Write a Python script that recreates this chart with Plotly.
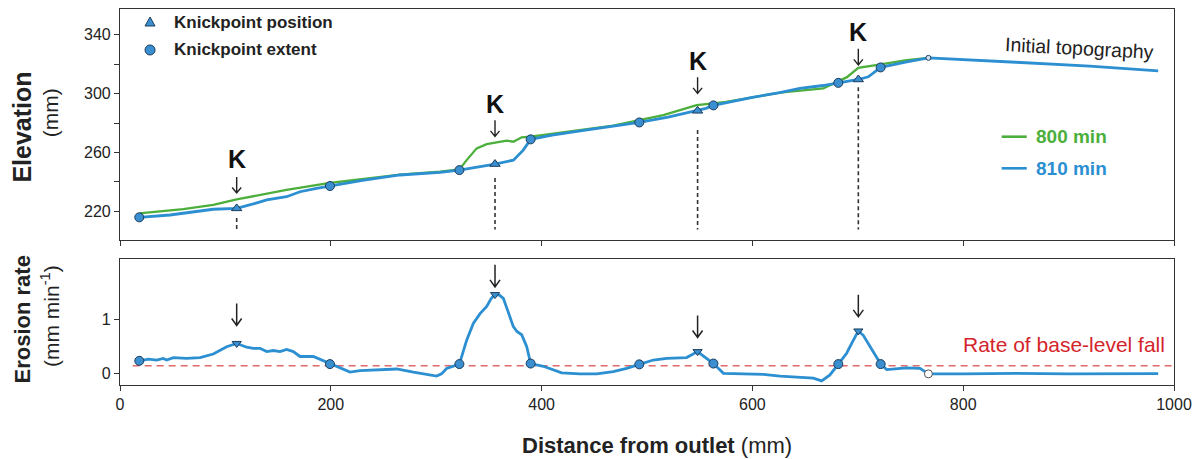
import plotly.graph_objects as go
from plotly.subplots import make_subplots

# ---------------- data ----------------
# Elevation profile at 810 min (blue)
dist_810 = [18.3, 47.4, 88.5, 110.7, 126.5, 139.2, 158, 170.8, 186.5, 199.2, 230, 265.7, 303.6, 322,
            340, 355.8, 373.2, 382.6, 389.6, 410, 440, 468, 492.7, 520, 548, 556, 563, 600, 626, 645,
            667, 681.5, 700.5, 710, 716.1, 721.7, 746.4, 767, 850, 920, 985]
elev_810 = [215.9, 217.5, 221.4, 222.0, 225.0, 227.7, 229.9, 233.3, 235.6, 237.2, 241.0, 244.7, 246.5, 248.0,
            250.0, 252.1, 254.8, 261.6, 268.9, 271.8, 275.0, 277.9, 280.4, 284.0, 288.3, 290.0, 292.0, 297.5, 300.6, 303.5,
            305.5, 307.3, 309.6, 311.4, 314.8, 317.8, 321.6, 324.3, 321.3, 318.7, 315.5]

# Elevation profile at 800 min (green)
dist_800 = [18.3, 60, 88.5, 110.7, 158, 199.2, 215, 265.7, 303.6, 322, 328.9, 338.4, 347.9, 355.8, 366.9,
            373.2, 381.1, 389.6, 420, 468, 492.7, 515.5, 531.3, 547.1, 563, 575, 626, 667.3, 681.5, 689.4,
            700.5, 711.6, 721.7, 746.4, 767]
elev_800 = [218.6, 221.5, 224.3, 228.1, 234.5, 239.4, 240.6, 245.0, 246.9, 248.5, 254.8, 262.8, 265.7, 266.6, 268.0,
            267.3, 270.3, 270.7, 273.5, 278.2, 282.0, 285.4, 288.8, 292.2, 293.4, 294.3, 300.6, 303.5, 308.5, 311.0,
            317.5, 318.9, 319.8, 322.7, 324.3]

# Erosion rate (810 min)
dist_rate = [18.3, 26.9, 34.8, 41, 44.3, 50.6, 63.2, 75.9, 88.5, 101.2, 110.7, 120.2, 126.5, 132.8, 139.2,
             145.5, 151.8, 158.1, 164.4, 170.8, 183.4, 192.9, 199.2, 208.7, 218.2, 227.7, 246.7, 262.5, 278.3,
             291, 300.4, 305, 309.9, 322, 328.9, 335.2, 341.6, 347.9, 352.3, 355.8, 360, 363.7, 368.5, 373.2,
             376.6, 381.1, 385.9, 389.6, 401.6, 411, 419.1, 436.4, 452.3, 468, 480.7, 492.7, 506, 518.7, 537.6,
             548, 563, 572.5, 594.6, 610.4, 626.2, 645.2, 657.8, 665.7, 673.6, 681.5, 689.4, 694.2, 700.5,
             705.2, 710, 716.3, 721.7, 727.4, 746.4, 759, 767, 800, 850, 900, 950, 985]
erosion_rate = [0.23, 0.26, 0.245, 0.275, 0.245, 0.29, 0.275, 0.29, 0.355, 0.49, 0.55, 0.48, 0.46, 0.46, 0.40,
                0.42, 0.40, 0.44, 0.40, 0.31, 0.31, 0.23, 0.17, 0.09, 0.024, 0.05, 0.06, 0.08, 0.02,
                -0.02, -0.05, -0.01, 0.09, 0.17, 0.61, 0.92, 1.10, 1.23, 1.38, 1.45, 1.44, 1.38, 1.10, 0.86,
                0.77, 0.71, 0.49, 0.18, 0.13, 0.07, 0.01, -0.01, -0.01, 0.03, 0.09, 0.165, 0.245, 0.275, 0.29,
                0.40, 0.18, 0.0, -0.01, -0.02, -0.05, -0.07, -0.09, -0.14, -0.03, 0.17, 0.37, 0.55, 0.78,
                0.70, 0.55, 0.34, 0.17, 0.07, 0.10, 0.09, -0.01, -0.01, 0.0, -0.01, 0.0, -0.005]

# Knickpoints
kp_x = [110.7, 355.8, 548.0, 700.5]
kp_elev = [222.0, 252.1, 288.3, 309.6]
kp_rate = [0.55, 1.45, 0.40, 0.78]
kp_dash_top = [215.4, 242.6, 275.2, 304.4]
kp_dash_bottom = 207.6
kp_label_elev = [255.5, 292.8, 322.2, 342.0]
kp_arrow_elev = [237.9, 276.4, 305.6, 325.0]
kp_arrow_rate = [1.083, 1.795, 0.862, 1.243]

ext_x = [18.3, 199.2, 322.0, 389.6, 492.7, 563.0, 681.5, 721.7]
ext_elev = [215.9, 237.2, 248.0, 268.9, 280.4, 292.0, 307.3, 317.8]
ext_rate = [0.23, 0.17, 0.17, 0.18, 0.165, 0.18, 0.17, 0.17]

init_x = [767.0]
init_elev = [324.3]
init_rate = [-0.01]

baselevel_rate = 0.14
baselevel_x = [12, 1000]

elev_major = [220, 260, 300, 340]
elev_minor = [240, 280, 320]
rate_ticks = [0, 1]
dist_ticks = [0, 200, 400, 600, 800, 1000]

# ---------------- style ----------------
BLUE = "#2b8fd1"
GREEN = "#4caf3c"
MFILL = "#3a8fd0"
MEDGE = "#1d3d5c"
RED = "#d4242b"
AX = "#333333"
FONT = "Liberation Sans, Arial, sans-serif"

fig = make_subplots(rows=2, cols=1, shared_xaxes=False, vertical_spacing=0.0)

# top panel
fig.add_trace(go.Scatter(x=dist_800, y=elev_800, mode="lines", line=dict(color=GREEN, width=2.3),
                         showlegend=False), row=1, col=1)
fig.add_trace(go.Scatter(x=dist_810, y=elev_810, mode="lines", line=dict(color=BLUE, width=2.8),
                         showlegend=False), row=1, col=1)
for xk, yt in zip(kp_x, kp_dash_top):
    fig.add_trace(go.Scatter(x=[xk, xk], y=[yt, kp_dash_bottom], mode="lines",
                             line=dict(color="#333333", width=1.6, dash="4px,3px"), showlegend=False),
                  row=1, col=1)
fig.add_trace(go.Scatter(x=ext_x, y=ext_elev, mode="markers",
                         marker=dict(symbol="circle", size=9, color=MFILL, line=dict(color=MEDGE, width=1)),
                         showlegend=False), row=1, col=1)
fig.add_trace(go.Scatter(x=kp_x, y=kp_elev, mode="markers",
                         marker=dict(symbol="triangle-up", size=9, color=MFILL, line=dict(color=MEDGE, width=1)),
                         showlegend=False), row=1, col=1)
fig.add_trace(go.Scatter(x=init_x, y=init_elev, mode="markers",
                         marker=dict(symbol="circle", size=5, color="#cfe3f3", line=dict(color=MEDGE, width=1)),
                         showlegend=False), row=1, col=1)

# bottom panel
fig.add_trace(go.Scatter(x=baselevel_x, y=[baselevel_rate] * 2, mode="lines",
                         line=dict(color="#e06a6a", width=1.6, dash="7px,5px"), showlegend=False),
              row=2, col=1)
fig.add_trace(go.Scatter(x=dist_rate, y=erosion_rate, mode="lines", line=dict(color=BLUE, width=2.8),
                         showlegend=False), row=2, col=1)
fig.add_trace(go.Scatter(x=ext_x, y=ext_rate, mode="markers",
                         marker=dict(symbol="circle", size=9, color=MFILL, line=dict(color=MEDGE, width=1)),
                         showlegend=False), row=2, col=1)
fig.add_trace(go.Scatter(x=kp_x, y=kp_rate, mode="markers",
                         marker=dict(symbol="triangle-down", size=8, color=MFILL, line=dict(color=MEDGE, width=1)),
                         showlegend=False), row=2, col=1)
fig.add_trace(go.Scatter(x=init_x, y=init_rate, mode="markers",
                         marker=dict(symbol="circle", size=8, color="white", line=dict(color="#555555", width=1)),
                         showlegend=False), row=2, col=1)

axis_common = dict(showline=True, linecolor=AX, linewidth=1.2, mirror=True, ticks="outside",
                   ticklen=5, tickcolor=AX, showgrid=False, zeroline=False,
                   tickfont=dict(family=FONT, size=16, color="#222222"))

fig.update_xaxes(range=[0, 1000], tickvals=dist_ticks, showticklabels=False, row=1, col=1, **axis_common)
fig.update_xaxes(range=[0, 1000], tickvals=dist_ticks, ticktext=[str(v) for v in dist_ticks],
                 row=2, col=1, **axis_common)
fig.update_yaxes(range=[200.5, 357.5], tickvals=elev_major,
                 minor=dict(tickvals=elev_minor, ticks="outside", ticklen=5, tickcolor=AX, showgrid=False),
                 row=1, col=1, **axis_common)
fig.update_yaxes(range=[-0.215, 2.105], tickvals=rate_ticks, row=2, col=1, **axis_common)

fig.update_layout(
    width=1200, height=459,
    margin=dict(l=120, r=26, t=9, b=74),
    paper_bgcolor="white", plot_bgcolor="white",
    font=dict(family=FONT, color="#222222"),
    xaxis=dict(domain=[0, 1]), xaxis2=dict(domain=[0, 1]),
    yaxis=dict(domain=[0.3856, 1.0]), yaxis2=dict(domain=[0.0, 0.3351]),
)

ann = []
shapes = []


def arrow_path(length, head_w, head_h):
    h = length / 2.0
    return (f"M 0 {h} L 0 {-h} "
            f"M {-head_w / 2} {-h + head_h} L 0 {-h} L {head_w / 2} {-h + head_h}")


# K labels and arrows
for xk, yl, ya, yr in zip(kp_x, kp_label_elev, kp_arrow_elev, kp_arrow_rate):
    ann.append(dict(x=xk, y=yl, xref="x", yref="y", text="<b>K</b>", showarrow=False,
                    font=dict(family=FONT, size=25, color="#111111"), xanchor="center", yanchor="middle"))
    shapes.append(dict(type="path", xref="x", yref="y", xsizemode="pixel", ysizemode="pixel",
                       xanchor=xk, yanchor=ya, path=arrow_path(16, 9, 5.5),
                       line=dict(color="#222222", width=1.4)))
    shapes.append(dict(type="path", xref="x2", yref="y2", xsizemode="pixel", ysizemode="pixel",
                       xanchor=xk, yanchor=yr, path=arrow_path(22, 10, 7),
                       line=dict(color="#222222", width=1.5)))

# axis titles
ann += [
    dict(x=-0.0925, y=0.686, xref="paper", yref="paper", text="<b>Elevation</b>", textangle=-90,
         showarrow=False, font=dict(family=FONT, size=25, color="#222222"), xanchor="center", yanchor="middle"),
    dict(x=-0.0664, y=0.723, xref="paper", yref="paper", text="(mm)", textangle=-90,
         showarrow=False, font=dict(family=FONT, size=21, color="#222222"), xanchor="center", yanchor="middle"),
    dict(x=-0.0925, y=0.173, xref="paper", yref="paper", text="<b>Erosion rate</b>", textangle=-90,
         showarrow=False, font=dict(family=FONT, size=22, color="#222222"), xanchor="center", yanchor="middle"),
    dict(x=-0.0664, y=0.1835, xref="paper", yref="paper", text="(mm min<sup>-1</sup>)", textangle=-90,
         showarrow=False, font=dict(family=FONT, size=21, color="#222222"), xanchor="center", yanchor="middle"),
    dict(x=0.5095, y=-0.160, xref="paper", yref="paper", text="<b>Distance from outlet</b> (mm)",
         showarrow=False, font=dict(family=FONT, size=22, color="#222222"), xanchor="center", yanchor="middle"),
    # legend texts
    dict(x=0.0493, y=0.9654, xref="paper", yref="paper", text="<b>Knickpoint position</b>",
         showarrow=False, font=dict(family=FONT, size=17, color="#222222"), xanchor="left", yanchor="middle"),
    dict(x=0.0493, y=0.891, xref="paper", yref="paper", text="<b>Knickpoint extent</b>",
         showarrow=False, font=dict(family=FONT, size=17, color="#222222"), xanchor="left", yanchor="middle"),
    dict(x=0.8672, y=0.6604, xref="paper", yref="paper", text="<b>800 min</b>",
         showarrow=False, font=dict(family=FONT, size=19, color=GREEN), xanchor="left", yanchor="middle"),
    dict(x=0.8672, y=0.5763, xref="paper", yref="paper", text="<b>810 min</b>",
         showarrow=False, font=dict(family=FONT, size=19, color=BLUE), xanchor="left", yanchor="middle"),
    dict(x=0.9108, y=0.8963, xref="paper", yref="paper", text="Initial topography", textangle=3,
         showarrow=False, font=dict(family=FONT, size=19.5, color="#222222"), xanchor="center", yanchor="middle"),
    dict(x=0.9934, y=0.1064, xref="paper", yref="paper", text="Rate of base-level fall",
         showarrow=False, font=dict(family=FONT, size=21, color=RED), xanchor="right", yanchor="middle"),
]
fig.update_layout(annotations=ann)

# legend symbols (decorations)
shapes += [
    dict(type="path", xref="paper", yref="paper", xsizemode="pixel", ysizemode="pixel",
         xanchor=0.0285, yanchor=0.9654, path="M -5 -4 L 5 -4 L 0 5 Z",
         fillcolor=MFILL, line=dict(color=MEDGE, width=1)),
    dict(type="circle", xref="paper", yref="paper", xsizemode="pixel", ysizemode="pixel",
         xanchor=0.0285, yanchor=0.891, x0=-5, x1=5, y0=-5, y1=5,
         fillcolor=MFILL, line=dict(color=MEDGE, width=1)),
    dict(type="line", xref="paper", yref="paper", x0=0.8365, x1=0.8603, y0=0.6604, y1=0.6604,
         line=dict(color=GREEN, width=2.6)),
    dict(type="line", xref="paper", yref="paper", x0=0.8365, x1=0.8603, y0=0.5763, y1=0.5763,
         line=dict(color=BLUE, width=2.6)),
]
fig.update_layout(shapes=shapes)

fig.write_html("out.html")
